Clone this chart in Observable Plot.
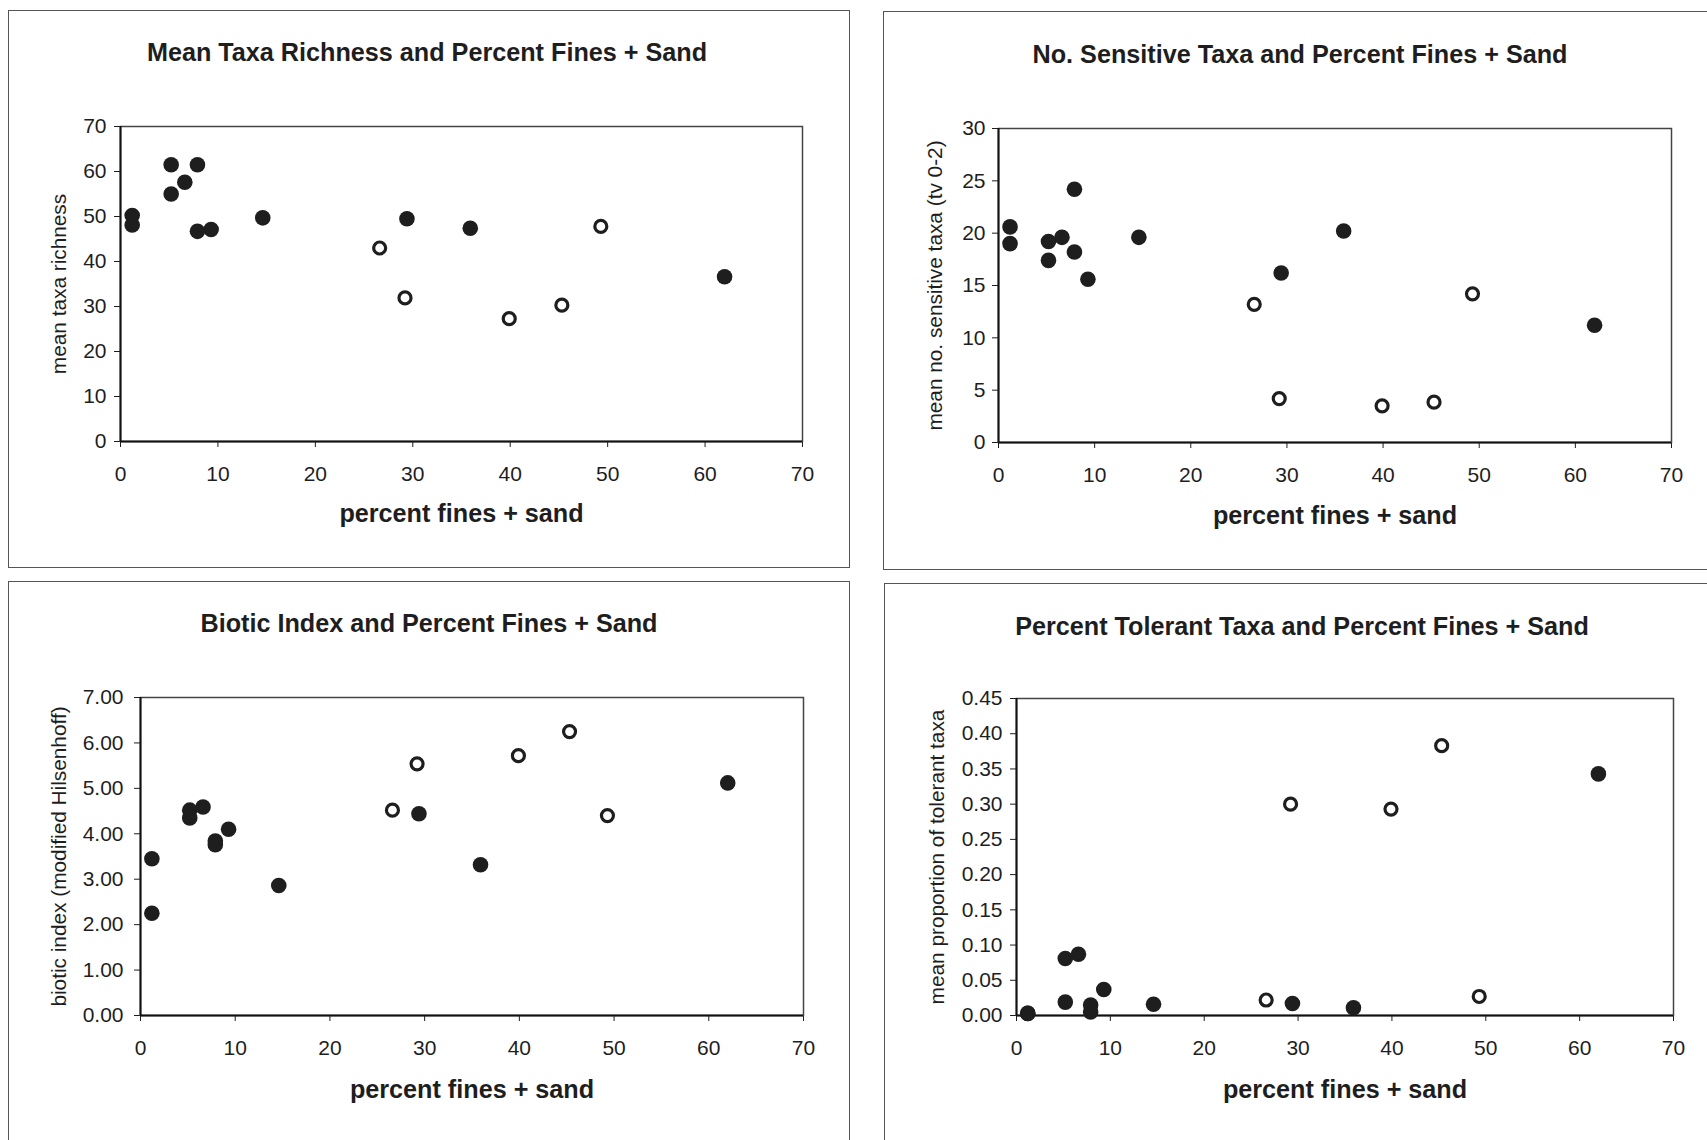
<!DOCTYPE html>
<html>
<head>
<meta charset="utf-8">
<script src="https://cdn.jsdelivr.net/npm/d3@7"></script>
<script src="https://cdn.jsdelivr.net/npm/@observablehq/plot@0.6"></script>
<style>
  html, body { margin: 0; padding: 0; background: #fff; }
  #root { position: relative; width: 1707px; height: 1140px; overflow: hidden; background: #fff; font-family: 'Liberation Sans', Arial, sans-serif; color: #1e1e1e; }
  .frame { position: absolute; border: 1.5px solid #555; box-sizing: border-box; }
  .title { position: absolute; transform: translate(-50%, -50%); font-weight: bold; font-size: 25.2px; line-height: 1; white-space: nowrap; color: #1e1e1e; }
  .chart { position: absolute; }
</style>
</head>
<body>
<div id="root"></div>
<script>
// ---- data ----
const xTicks = [0, 10, 20, 30, 40, 50, 60, 70];
const xLabel = "percent fines + sand";

// sites: filled circles and open circles
const filledX = [1.2, 1.2, 5.2, 5.2, 6.6, 7.9, 7.9, 9.3, 14.6, 29.4, 35.9, 62.0];
const openX = [26.6, 29.2, 39.9, 45.3, 49.3];

const richnessFilled = [50.2, 48.1, 61.5, 55.0, 57.6, 61.5, 46.7, 47.1, 49.7, 49.5, 47.4, 36.6];
const richnessOpen = [43.0, 31.9, 27.3, 30.3, 47.8];
const richnessTicks = [0, 10, 20, 30, 40, 50, 60, 70];

const sensitiveFilled = [20.6, 19.0, 19.2, 17.4, 19.6, 24.2, 18.2, 15.6, 19.6, 16.2, 20.2, 11.2];
const sensitiveOpen = [13.2, 4.2, 3.5, 3.85, 14.2];
const sensitiveTicks = [0, 5, 10, 15, 20, 25, 30];

const bioticFilled = [3.45, 2.25, 4.52, 4.35, 4.59, 3.84, 3.76, 4.10, 2.86, 4.44, 3.32, 5.12];
const bioticOpen = [4.52, 5.54, 5.72, 6.25, 4.40];
const bioticTicks = [0, 1, 2, 3, 4, 5, 6, 7];

const tolerantFilled = [0.003, 0.003, 0.081, 0.019, 0.087, 0.015, 0.005, 0.037, 0.016, 0.017, 0.011, 0.343];
const tolerantOpen = [0.022, 0.300, 0.293, 0.383, 0.027];
const tolerantTicks = [0, 0.05, 0.10, 0.15, 0.20, 0.25, 0.30, 0.35, 0.40, 0.45];

const titles = [
  "Mean Taxa Richness and Percent Fines + Sand",
  "No. Sensitive Taxa and Percent Fines + Sand",
  "Biotic Index and Percent Fines + Sand",
  "Percent Tolerant Taxa and Percent Fines + Sand"
];
const yLabels = [
  "mean taxa richness",
  "mean no. sensitive taxa (tv 0-2)",
  "biotic index (modified Hilsenhoff)",
  "mean proportion of tolerant taxa"
];

// ---- layout ----
const root = document.getElementById("root");

function addFrame(left, top, right, bottom) {
  const d = document.createElement("div");
  d.className = "frame";
  d.style.left = left + "px"; d.style.top = top + "px";
  d.style.width = (right - left) + "px"; d.style.height = (bottom - top) + "px";
  root.appendChild(d);
}
addFrame(8, 10, 850, 568);
addFrame(883, 11, 1740, 570);
addFrame(8, 581, 850, 1180);
addFrame(884, 583, 1740, 1180);

function addTitle(text, cx, cy) {
  const d = document.createElement("div");
  d.className = "title";
  d.textContent = text;
  d.style.left = cx + "px"; d.style.top = cy + "px";
  root.appendChild(d);
}

const ML = 110, MR = 30, MT = 30, MB = 100;

function panel(cfg) {
  const width = cfg.plotRight - cfg.plotLeft + ML + MR;
  const height = cfg.plotBottom - cfg.plotTop + MT + MB;
  const filled = cfg.fx.map((x, i) => ({x, y: cfg.fy[i]}));
  const open = cfg.ox.map((x, i) => ({x, y: cfg.oy[i]}));
  const chart = Plot.plot({
    width, height,
    marginLeft: ML, marginRight: MR, marginTop: MT, marginBottom: MB,
    style: {fontFamily: "'Liberation Sans', Arial, sans-serif", fontSize: "21px", color: "#1e1e1e", background: "transparent", overflow: "visible"},
    x: {domain: [0, 70], ticks: xTicks, tickSize: 6, tickPadding: 19, label: null, tickFormat: d3.format("d")},
    y: {domain: cfg.yDomain, ticks: cfg.yTicks, tickSize: 6, tickPadding: cfg.yPad, label: null, tickFormat: cfg.yFmt},
    marks: [
      Plot.frame({stroke: "#444", strokeWidth: 1.5}),
      Plot.ruleX([0], {stroke: "#111", strokeWidth: 2}),
      Plot.ruleY([cfg.yDomain[0]], {stroke: "#111", strokeWidth: 2}),
      Plot.dot(open, {x: "x", y: "y", r: 6, stroke: "#1e1e1e", strokeWidth: 3.2, fill: "white"}),
      Plot.dot(filled, {x: "x", y: "y", r: 7.8, fill: "#1e1e1e", stroke: "none"}),
      Plot.text([xLabel], {text: d => d, frameAnchor: "bottom", dy: cfg.xLabelDy, fontWeight: "bold", fontSize: 25.2, lineAnchor: "middle", fill: "#1e1e1e"}),
      Plot.text([cfg.yLabel], {text: d => d, frameAnchor: "left", dx: cfg.yLabelDx, rotate: -90, fontSize: 20.8, lineAnchor: "middle", textAnchor: "middle", fill: "#1e1e1e"})
    ]
  });
  const wrap = document.createElement("div");
  wrap.className = "chart";
  wrap.style.left = (cfg.plotLeft - ML) + "px";
  wrap.style.top = (cfg.plotTop - MT) + "px";
  wrap.style.width = width + "px";
  wrap.style.height = height + "px";
  wrap.appendChild(chart);
  root.appendChild(wrap);
  addTitle(cfg.title, cfg.titleX, cfg.titleY);
}

const f2 = d3.format(".2f");

panel({plotLeft: 120, plotRight: 802, plotTop: 126, plotBottom: 441,
  yDomain: [0, 70], yTicks: richnessTicks, yFmt: d3.format("d"), yPad: 8,
  fx: filledX, fy: richnessFilled, ox: openX, oy: richnessOpen,
  yLabel: yLabels[0], yLabelDx: -61, xLabelDy: 72,
  title: titles[0], titleX: 427, titleY: 53});

panel({plotLeft: 998, plotRight: 1671, plotTop: 128, plotBottom: 442,
  yDomain: [0, 30], yTicks: sensitiveTicks, yFmt: d3.format("d"), yPad: 7,
  fx: filledX, fy: sensitiveFilled, ox: openX, oy: sensitiveOpen,
  yLabel: yLabels[1], yLabelDx: -63, xLabelDy: 73,
  title: titles[1], titleX: 1300, titleY: 55});

panel({plotLeft: 140, plotRight: 803, plotTop: 697, plotBottom: 1015,
  yDomain: [0, 7], yTicks: bioticTicks, yFmt: f2, yPad: 11,
  fx: filledX, fy: bioticFilled, ox: openX, oy: bioticOpen,
  yLabel: yLabels[2], yLabelDx: -81, xLabelDy: 74,
  title: titles[2], titleX: 429, titleY: 624});

panel({plotLeft: 1016, plotRight: 1673, plotTop: 698, plotBottom: 1015,
  yDomain: [0, 0.45], yTicks: tolerantTicks, yFmt: f2, yPad: 8,
  fx: filledX, fy: tolerantFilled, ox: openX, oy: tolerantOpen,
  yLabel: yLabels[3], yLabelDx: -79, xLabelDy: 74,
  title: titles[3], titleX: 1302, titleY: 627});
</script>
</body>
</html>
